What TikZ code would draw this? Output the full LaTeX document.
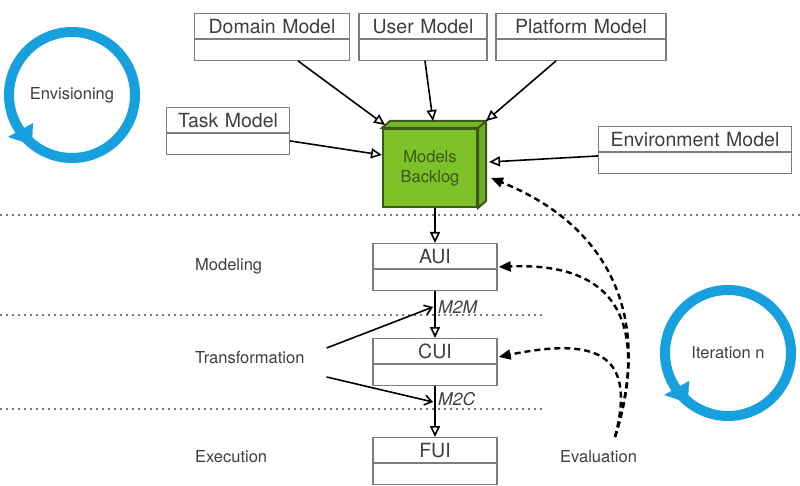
\documentclass[tikz,border=0pt]{standalone}
\usepackage{fontspec}
\setmainfont{TeX Gyre Heros}
\usepackage{tikz}
\usetikzlibrary{shapes.multipart,arrows.meta}
\definecolor{cycblue}{RGB}{22,160,222}
\definecolor{cubegreen}{RGB}{126,194,42}
\definecolor{cubedark}{RGB}{58,88,24}
\definecolor{boxgray}{RGB}{125,125,125}
\definecolor{txtgray}{RGB}{62,62,62}

\newcommand{\modelparts}[1]{\rule[-4.5pt]{0pt}{24pt}#1\nodepart{two}\rule{0pt}{20pt}}

\tikzset{
  model/.style={draw=boxgray, line width=1.3pt, rectangle split, rectangle split parts=2,
    text width=#1, align=center, inner sep=0pt, anchor=north, text=txtgray,
    font=\fontsize{19.5}{22}\selectfont},
  phase/.style={anchor=west, inner sep=0pt, text=txtgray, font=\fontsize{16.5}{19}\selectfont},
  trlbl/.style={anchor=west, inner xsep=5pt, inner ysep=0pt, text=txtgray, font=\fontsize{17.5}{19}\itshape},
  cyc/.style={circle, draw=cycblue, line width=10pt, minimum size=126pt, inner sep=0pt,
    text=txtgray, font=\fontsize{16.5}{19}\selectfont},
  backlogbox/.style={draw=cubedark, fill=cubegreen, line width=2pt, minimum width=94pt,
    minimum height=78pt, inner sep=0pt, align=center, text=cubedark,
    font=\fontsize{16.5}{20}\selectfont},
  gen/.style={-{Triangle[open,length=11pt,width=10pt]}, line width=1.6pt},
  dep/.style={-{Triangle[length=12pt,width=10pt]}, dash pattern=on 6pt off 4pt, line width=2.4pt},
  trf/.style={-{Straight Barb[length=7pt,width=10pt]}, line width=1.6pt},
  sep/.style={boxgray, dash pattern=on 1.5pt off 4.5pt, line width=1.5pt}
}

\begin{document}
\begin{tikzpicture}[x=1pt,y=-1pt]

\useasboundingbox (0,0) rectangle (800,486);

\draw[sep] (0,215)--(800,215);
\draw[sep] (0,315)--(543,315);
\draw[sep] (0,409)--(543,409);

\node[cyc] (envis) at (72,95) {Envisioning};
\fill[cycblue] ([shift={(-64,42)}]envis.center) -- ([shift={(-39,28)}]envis.center) -- ([shift={(-40,50)}]envis.center) -- cycle;
\node[cyc] (iter) at (728,353) {Iteration n};
\fill[cycblue] ([shift={(-64,42)}]iter.center) -- ([shift={(-39,28)}]iter.center) -- ([shift={(-40,50)}]iter.center) -- cycle;

\node[model=155pt] (domain) at (272,13) {\modelparts{Domain Model}};
\node[model=128pt] (user) at (423,13) {\modelparts{User Model}};
\node[model=170pt] (platform) at (581,13) {\modelparts{Platform Model}};
\node[model=123pt] (task) at (228,107) {\modelparts{Task Model}};
\node[model=193pt] (env) at (695,126) {\modelparts{Environment Model}};

\node[backlogbox] (backlog) at (430,168) {Models\\Backlog};
\filldraw[fill=cubegreen!88!black, draw=cubedark, line width=2pt] (backlog.north east) -- ([shift={(8,-7)}]backlog.north east) -- ([shift={(8,-7)}]backlog.south east) -- (backlog.south east) -- cycle;
\filldraw[fill=cubegreen!94!black, draw=cubedark, line width=2pt] (backlog.north west) -- ([shift={(8,-7)}]backlog.north west) -- ([shift={(8,-7)}]backlog.north east) -- (backlog.north east) -- cycle;

\node[model=124pt] (aui) at (435,243) {\modelparts{AUI}};
\node[model=124pt] (cui) at (435,338) {\modelparts{CUI}};
\node[model=124pt] (fui) at (435,437) {\modelparts{FUI}};

\node[phase] (modeling) at (195,266) {Modeling};
\node[phase] (trans) at (195,358) {Transformation};
\node[phase] (exec) at (195,457) {Execution};
\node[phase] (eval) at (560,457) {Evaluation};
\node[trlbl] (m2m) at (433,307) {M2M};
\node[trlbl] (m2c) at (433,399) {M2C};
\coordinate (evtop) at (615,437);

\draw[gen] ([shift={(26,0)}]domain.south) -- ([shift={(3,-3)}]backlog.north west);
\draw[gen] ([shift={(2,0)}]user.south) -- ([shift={(3,-7)}]backlog.north);
\draw[gen] ([shift={(-25,0)}]platform.south) -- ([shift={(8,-7)}]backlog.north east);
\draw[gen] ([shift={(0,10)}]task.east) -- ([shift={(0,-13)}]backlog.west);
\draw[gen] ([shift={(0,6)}]env.west) -- ([shift={(11,-6)}]backlog.east);

\draw[gen] (backlog.south -| aui.north) -- (aui.north);
\draw[gen] (aui.south) -- (cui.north);
\draw[gen] (cui.south) -- (fui.north);

\draw[trf] ([shift={(22,-10)}]trans.east) -- (m2m.west);
\draw[trf] ([shift={(22,19)}]trans.east) -- ([shift={(0,3)}]m2c.west);

\draw[dep] (evtop) .. controls (650,330) and (620,230) .. ([shift={(13,10)}]backlog.east);
\draw[dep] (evtop) .. controls (650,320) and (615,262) .. ([shift={(1,0)}]aui.east);
\draw[dep] (evtop) .. controls (635,360) and (605,335) .. ([shift={(1,-5)}]cui.east);

\end{tikzpicture}
\end{document}
